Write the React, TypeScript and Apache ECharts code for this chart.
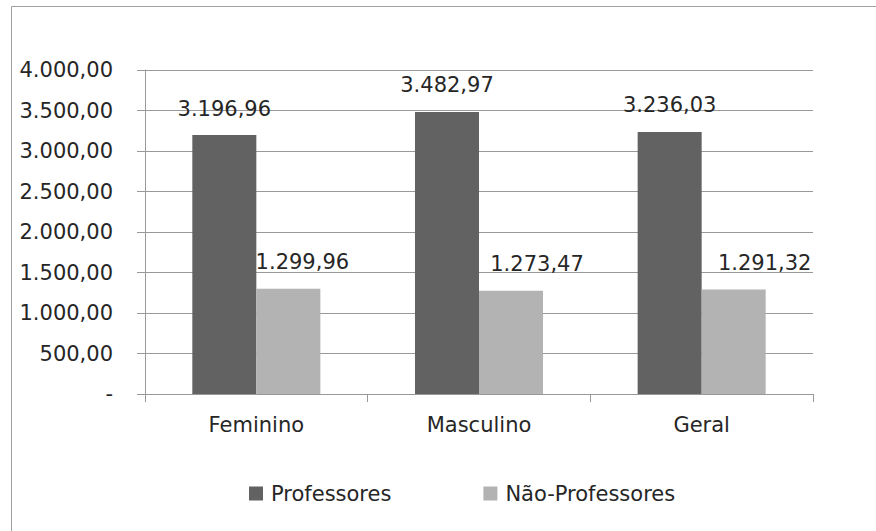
import React, { useEffect, useRef } from "react";
import * as echarts from "echarts";

const categories = ["Feminino", "Masculino", "Geral"];
const professores = [3196.96, 3482.97, 3236.03];
const naoProfessores = [1299.96, 1273.47, 1291.32];
const seriesNames = ["Professores", "Não-Professores"];
const yTicks = { min: 0, max: 4000, interval: 500 };
const lightLabelShift = [14, 26, 31];

function fmtBR(v: number): string {
  const fixed = Math.abs(v).toFixed(2);
  const [intPart, dec] = fixed.split(".");
  const withDots = intPart.replace(/\B(?=(\d{3})+(?!\d))/g, ".");
  return (v < 0 ? "-" : "") + withDots + "," + dec;
}

const FONT = "DejaVu Sans";
const TEXT = "#262626";
const FS = 21;

export default function App() {
  const ref = useRef<HTMLDivElement>(null);
  useEffect(() => {
    if (!ref.current) return;
    const chart = echarts.init(ref.current, undefined, { renderer: "svg" });
    chart.setOption({
      animation: false,
      backgroundColor: "#ffffff",
      textStyle: { fontFamily: FONT, color: TEXT },
      graphic: [
        {
          type: "rect",
          shape: { x: 11.5, y: 6.5, width: 900, height: 600 },
          style: { fill: "none", stroke: "#a0a0a0", lineWidth: 1 },
          silent: true,
        },
      ],
      grid: { left: 145, right: 63, top: 70, bottom: 137, containLabel: false },
      legend: {
        left: 244,
        top: 478,
        itemWidth: 14,
        itemHeight: 14,
        itemGap: 92,
        icon: "rect",
        textStyle: { fontFamily: FONT, fontSize: FS, color: TEXT, padding: [0, 0, 0, 3] },
        data: seriesNames,
      },
      xAxis: {
        type: "category",
        data: categories,
        axisLine: { show: true, lineStyle: { color: "#999999", width: 1 } },
        axisTick: { show: true, alignWithLabel: false, length: 8, lineStyle: { color: "#999999" } },
        axisLabel: { fontFamily: FONT, fontSize: FS, color: TEXT, margin: 20 },
      },
      yAxis: {
        type: "value",
        min: yTicks.min,
        max: yTicks.max,
        interval: yTicks.interval,
        axisLine: { show: true, lineStyle: { color: "#999999", width: 1 } },
        axisTick: { show: true, length: 8, lineStyle: { color: "#999999" } },
        splitLine: { show: true, lineStyle: { color: "#999999", width: 1 } },
        axisLabel: {
          fontFamily: FONT,
          fontSize: FS,
          color: TEXT,
          margin: 32,
          formatter: (v: number) => (v === 0 ? "-" : fmtBR(v)),
        },
      },
      series: [
        {
          name: seriesNames[0],
          type: "bar",
          data: professores,
          barGap: "0%",
          barCategoryGap: "42.5%",
          itemStyle: { color: "#626262" },
          label: {
            show: true,
            position: "top",
            distance: 16,
            fontFamily: FONT,
            fontSize: FS,
            color: TEXT,
            formatter: (p: any) => fmtBR(p.value),
          },
        },
        {
          name: seriesNames[1],
          type: "bar",
          barGap: "0%",
          barCategoryGap: "42.5%",
          itemStyle: { color: "#b3b3b3" },
          data: naoProfessores.map((v, i) => ({
            value: v,
            label: { offset: [lightLabelShift[i], 0] },
          })),
          label: {
            show: true,
            position: "top",
            distance: 16,
            fontFamily: FONT,
            fontSize: FS,
            color: TEXT,
            formatter: (p: any) => fmtBR(p.value),
          },
        },
      ],
    });
    return () => chart.dispose();
  }, []);
  return (
    <div
      ref={ref}
      style={{ position: "fixed", left: 0, top: 0, width: 876, height: 531 }}
    />
  );
}
